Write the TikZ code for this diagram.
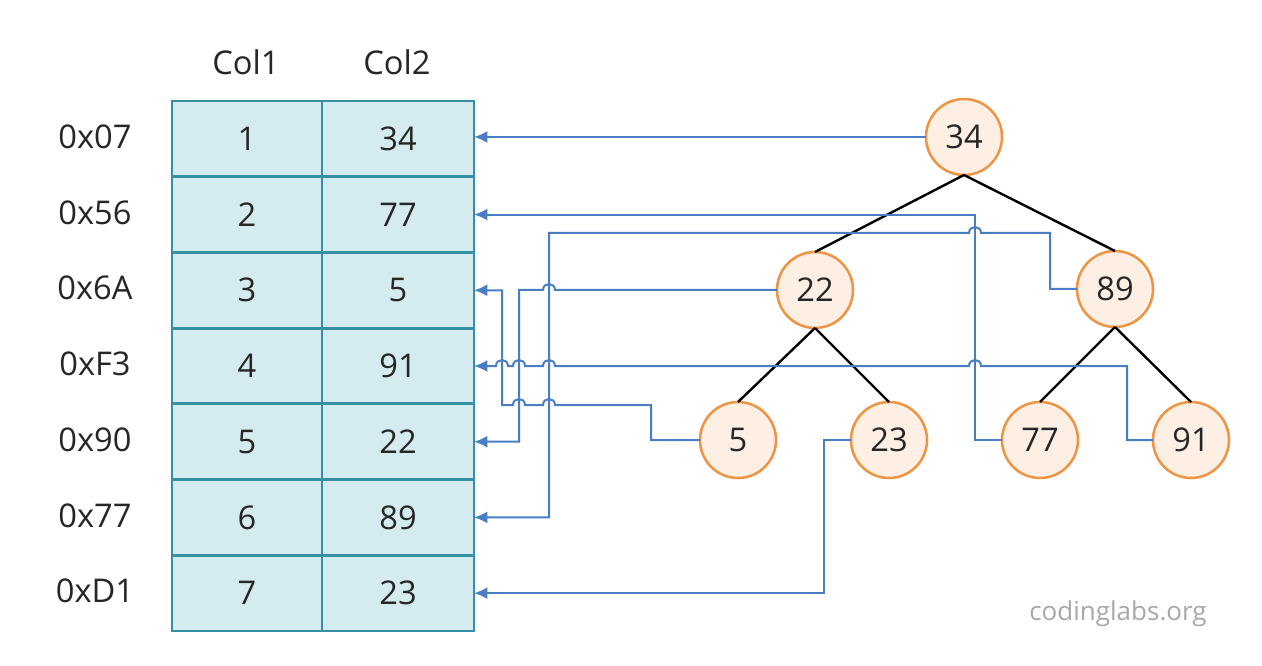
\documentclass[tikz,border=0pt]{standalone}
\usepackage{fontspec}
\setmainfont{Open Sans}
\usetikzlibrary{arrows.meta}
\definecolor{connc}{HTML}{4A7EC4}
\definecolor{tabline}{HTML}{3590A3}
\definecolor{tabfill}{HTML}{D4ECF0}
\definecolor{nodefill}{HTML}{FDEFE4}
\definecolor{nodeline}{HTML}{EE9445}
\definecolor{txt}{HTML}{262626}
\definecolor{wm}{HTML}{A8A8A8}
\begin{document}
\begin{tikzpicture}[x=0.75pt,y=-0.75pt,
  txtfont/.style={font=\fontsize{24.5}{26}\selectfont, text=txt},
  cellA/.style={draw=tabline, fill=tabfill, line width=2.2pt, minimum width=112.5pt, minimum height=56.79pt, inner sep=0pt, outer sep=0pt, txtfont},
  cellB/.style={cellA, minimum width=114pt},
  lab/.style={txtfont, inner sep=0pt},
  tn/.style={circle, draw=nodeline, fill=nodefill, line width=1.9pt, minimum size=57pt, inner sep=0pt, outer sep=0pt, txtfont},
  edge/.style={line width=1.8pt, black},
  conn/.style={draw=connc, line width=1.5pt, -{Latex[length=10pt,width=9pt]}}
]
\useasboundingbox[fill=white] (0,0) rectangle (1262,666);

% table
\foreach \i/\a/\b/\l in {1/1/34/0x07, 2/2/77/0x56, 3/3/5/0x6A, 4/4/91/0xF3, 5/5/22/0x90, 6/6/89/0x77, 7/7/23/0xD1}{
  \node[cellA] (a\i) at (247,{101+75.714*(\i-0.5)}) {\a};
  \node[cellB] (c\i) at (398,{101+75.714*(\i-0.5)}) {\b};
  \node[lab] (l\i) at (95,{99+75.714*(\i-0.5)}) {\l};
}
\node[lab] (h1) at (246,62) {Col1};
\node[lab] (h2) at (397,62) {Col2};

% tree
\node[tn] (t34) at (964,137) {34};
\node[tn] (t22) at (815,290) {22};
\node[tn] (t89) at (1115,289) {89};
\node[tn] (t5) at (738,440) {5};
\node[tn] (t23) at (889,440) {23};
\node[tn] (t77) at (1040,440) {77};
\node[tn] (t91) at (1191,440) {91};

\draw[edge] (t34.south) -- (t22.north);
\draw[edge] (t34.south) -- (t89.north);
\draw[edge] (t22.south) -- (t5.north);
\draw[edge] (t22.south) -- (t23.north);
\draw[edge] (t89.south) -- (t77.north);
\draw[edge] (t89.south) -- (t91.north);

% connectors
\draw[conn] (t34.west) -- (t34.west -| c1.east);
\draw[conn] (t77.west) -- (975,440) |- (c2.east);
\draw[conn] (t89.west) -- (1050,289) -- (1050,233) -- (981,233)
   .. controls (981,225) and (969,225) .. (969,233) -- (549,233) |- (c6.east);
\draw[conn] (t22.west) -- (555,290) .. controls (555,282) and (543,282) .. (543,290)
   -- (519,290) |- (c5.east);
\draw[conn] (t5.west) -- (651,440) -- (651,405) -- (555,405)
   .. controls (555,397) and (543,397) .. (543,405) -- (525,405)
   .. controls (525,397) and (513,397) .. (513,405) -- (502,405) |- (c3.east);
\draw[conn] (t91.west) -- (1127,440) -- (1127,366) -- (981,366)
   .. controls (981,358) and (969,358) .. (969,366) -- (555,366)
   .. controls (555,358) and (543,358) .. (543,366) -- (525,366)
   .. controls (525,358) and (513,358) .. (513,366) -- (508,366)
   .. controls (508,358) and (496,358) .. (496,366) -- (c4.east |- 0,366);
\draw[conn] (t23.west) -- (824,440) |- (c7.east);

\node[font=\fontsize{19.5}{21}\selectfont, text=wm] (wmark) at (1118,614) {codinglabs.org};
\end{tikzpicture}
\end{document}
